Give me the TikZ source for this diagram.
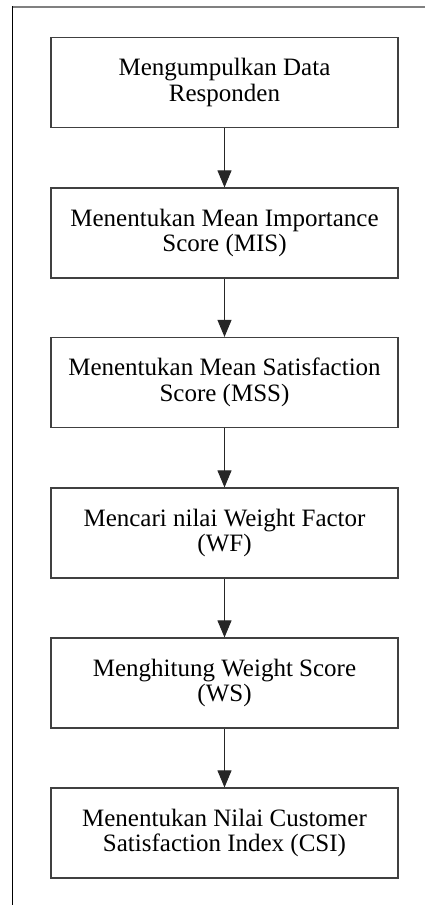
\documentclass[tikz,border=0pt]{standalone}
\usepackage{fontspec}
\setmainfont{Liberation Serif}
\usetikzlibrary{arrows.meta}
\begin{document}
\begin{tikzpicture}[x=1pt,y=-1pt,
  stepbox/.style={draw=black!75, line width=1.2pt, rectangle, minimum width=347pt,
    minimum height=90pt, align=center, inner sep=0pt,
    font=\fontsize{25}{25.5}\selectfont},
  flow/.style={draw=black!85, line width=1pt, -{Triangle[length=17pt,width=14pt]}}
]
\useasboundingbox (0,0) rectangle (425,905);
% frame
\draw[black!50, line width=2pt] (12,7) -- (425,7);
\draw[black, line width=1.3pt] (12.5,6) -- (12.5,905);

\node[stepbox] (s1) at (224.5,82.5) {Mengumpulkan Data\\Responden};
\node[stepbox] (s2) at (224.5,233) {Menentukan Mean Importance\\Score (MIS)};
\node[stepbox] (s3) at (224.5,382.5) {Menentukan Mean Satisfaction\\Score (MSS)};
\node[stepbox] (s4) at (224.5,533) {Mencari nilai Weight Factor\\(WF)};
\node[stepbox] (s5) at (224.5,683) {Menghitung Weight Score\\(WS)};
\node[stepbox] (s6) at (224.5,833) {Menentukan Nilai Customer\\Satisfaction Index (CSI)};

\draw[flow] (s1.south) -- (s2.north);
\draw[flow] (s2.south) -- (s3.north);
\draw[flow] (s3.south) -- (s4.north);
\draw[flow] (s4.south) -- (s5.north);
\draw[flow] (s5.south) -- (s6.north);
\end{tikzpicture}
\end{document}
